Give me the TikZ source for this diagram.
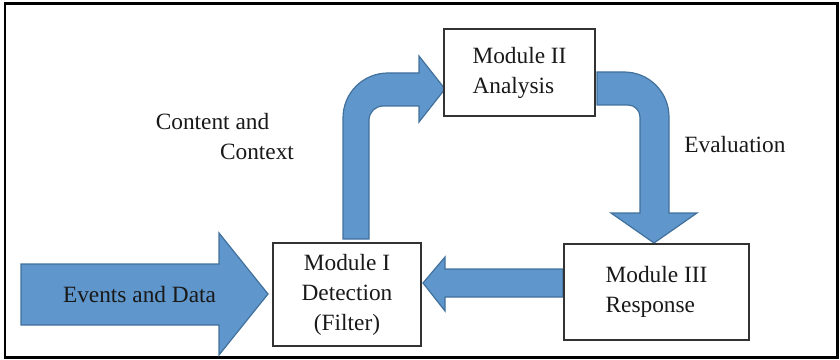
\documentclass[tikz,border=0pt]{standalone}
\usepackage{fontspec}
\setmainfont{Liberation Serif}
\definecolor{arrowfill}{RGB}{95,150,203}
\definecolor{arrowline}{RGB}{65,113,156}

\begin{document}
\begin{tikzpicture}[x=0.75pt, y=-0.75pt,
        every node/.style={font=\fontsize{17.5}{22.5}\selectfont, text=black!90},
        modbox/.style={draw=black!80, line width=0.9pt, fill=white, inner sep=0pt, align=center},
        blockarrow/.style={fill=arrowfill, draw=arrowline, line width=0.9pt, line join=miter}]
        \useasboundingbox (0,0) rectangle (840,360);
        % Outer frame
        \draw[line width=1.6pt] (5,3.5) rectangle (837.5,357.5);
        % Input arrow
        \filldraw[blockarrow] (21,264) -- (219,264) -- (219,233) -- (268,294)
            -- (219,355) -- (219,325) -- (21,325) -- cycle;
        \node[anchor=base] (events) at (139.5,302) {Events and Data};
        % Module I -> Module II (bent up)
        \filldraw[blockarrow] (343,239) -- (343,118) .. controls (343,93) and (363,73) .. (388,73)
            -- (419,73) -- (419,56) -- (445,89) -- (419,122) -- (419,106) -- (383,106)
            .. controls (375.3,106) and (369,112.3) .. (369,120) -- (369,239) -- cycle;
        % Module II -> Module III (bent down)
        \filldraw[blockarrow] (597,72) -- (624,72) .. controls (649,72) and (669,92) .. (669,117)
            -- (669,213) -- (697,213) -- (654,243) -- (611,213) -- (640,213) -- (640,117)
            .. controls (640,110.4) and (634.6,105) .. (628,105) -- (597,105) -- cycle;
        % Module III -> Module I
        \filldraw[blockarrow] (563,269) -- (445,269) -- (445,257) -- (423,283)
            -- (445,311) -- (445,297) -- (563,297) -- cycle;
        % Modules
        \node[modbox, minimum width=111pt, minimum height=77.25pt] (detect) at (347,294.5)
            {Module I\\Detection\\(Filter)};
        \node[modbox, minimum width=113.25pt, minimum height=65.25pt, align=left] (analyse) at (519.5,72.5)
            {Module II\\Analysis};
        \node[modbox, minimum width=138.75pt, minimum height=72pt, align=left] (respond) at (656.5,292)
            {Module III\\Response};
        % Arrow labels
        \node[anchor=base] (content) at (212.5,130) {Content and};
        \node[anchor=base] (context) at (257,160) {Context};
        \node[anchor=base] (evaluate) at (735,152) {Evaluation};
    \end{tikzpicture}
\end{document}
